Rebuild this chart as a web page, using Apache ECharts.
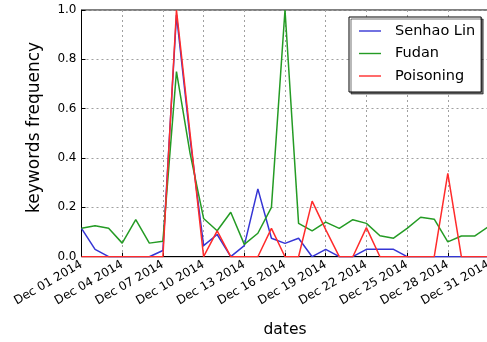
<!DOCTYPE html>
<html>
<head>
<meta charset="utf-8">
<script src="https://cdn.jsdelivr.net/npm/echarts@6/dist/echarts.min.js"></script>
<style>html,body{margin:0;padding:0;background:#fff}#c{width:487px;height:342px}</style>
</head>
<body>
<div id="c"></div>
<script>
var dates = ['Dec 01 2014','Dec 02 2014','Dec 03 2014','Dec 04 2014','Dec 05 2014','Dec 06 2014','Dec 07 2014','Dec 08 2014','Dec 09 2014','Dec 10 2014','Dec 11 2014','Dec 12 2014','Dec 13 2014','Dec 14 2014','Dec 15 2014','Dec 16 2014','Dec 17 2014','Dec 18 2014','Dec 19 2014','Dec 20 2014','Dec 21 2014','Dec 22 2014','Dec 23 2014','Dec 24 2014','Dec 25 2014','Dec 26 2014','Dec 27 2014','Dec 28 2014','Dec 29 2014','Dec 30 2014','Dec 31 2014'];
var senhaoLin = [0.115,0.03,0,0,0,0,0.025,0.98,0.48,0.045,0.09,0,0.045,0.275,0.075,0.054,0.075,0,0.03,0,0,0.03,0.03,0.03,0,0,0,0,0,0,0];
var fudan = [0.115,0.125,0.115,0.055,0.15,0.055,0.063,0.75,0.42,0.155,0.105,0.18,0.05,0.095,0.2,1.0,0.135,0.105,0.14,0.115,0.15,0.135,0.085,0.075,0.115,0.16,0.152,0.06,0.084,0.084,0.122];
var poisoning = [0,0,0,0,0,0,0,1.0,0.5,0,0.105,0,0,0,0.115,0,0,0.225,0.11,0,0,0.118,0,0,0,0,0,0.338,0,0,0];
var yTicks = [0,0.2,0.4,0.6,0.8,1.0];

var font = 'DejaVu Sans';
var chart = echarts.init(document.getElementById('c'), null, {renderer:'canvas'});
var gridLine = {show:true, lineStyle:{color:'#a0a0a0', type:[2,3], width:1}};
var legendIcon = 'path://M0,0 M31,14 M0,6.3 H22 V7.7 H0 Z';
function mk(name, data, color){
  return {name:name, type:'line', data:data, symbol:'none', showSymbol:false,
    lineStyle:{color:color, width:1.5}, itemStyle:{color:color}, animation:false};
}
chart.setOption({
  animation:false,
  textStyle:{fontFamily:font},
  grid:{left:81.5, top:10, width:407, height:246.7, show:true, borderColor:'#000', borderWidth:1, outerBoundsMode:'none'},
  legend:{
    orient:'vertical', left:349, top:17,
    padding:[6,6,8,10], itemGap:6.5, itemWidth:31, itemHeight:16,
    icon:legendIcon,
    backgroundColor:'#fff', borderColor:'#000', borderWidth:1,
    shadowColor:'rgba(0,0,0,0.55)', shadowBlur:0, shadowOffsetX:2, shadowOffsetY:2,
    textStyle:{fontFamily:font, fontSize:14.5, color:'#000', lineHeight:16},
    data:['Senhao Lin','Fudan','Poisoning']
  },
  xAxis:{
    type:'category', data:dates, boundaryGap:false,
    name:'dates', nameLocation:'middle', nameGap:65,
    nameTextStyle:{fontFamily:font, fontSize:15.5, color:'#000'},
    axisLine:{lineStyle:{color:'#000', width:1}},
    axisTick:{show:true, inside:true, interval:2, length:4, lineStyle:{color:'#000'}},
    axisLabel:{interval:2, rotate:30, margin:7, fontFamily:font, fontSize:12, color:'#000'},
    splitLine:{show:true, interval:2, lineStyle:{color:'#a0a0a0', type:[2,3], width:1}}
  },
  yAxis:{
    type:'value', min:0, max:1, interval:0.2,
    name:'keywords frequency', nameLocation:'middle', nameGap:38,
    nameTextStyle:{fontFamily:font, fontSize:17, color:'#000', padding:[0,0,0,12]},
    axisLine:{show:true, lineStyle:{color:'#000', width:1}},
    axisTick:{show:true, inside:true, length:4, lineStyle:{color:'#000'}},
    axisLabel:{margin:5, fontFamily:font, fontSize:12, color:'#000', formatter:function(v){return v.toFixed(1);}},
    splitLine:gridLine
  },
  series:[
    mk('Senhao Lin', senhaoLin, '#3535d5'),
    mk('Fudan', fudan, '#249b24'),
    mk('Poisoning', poisoning, '#ff2b2b')
  ]
});
</script>
</body>
</html>
